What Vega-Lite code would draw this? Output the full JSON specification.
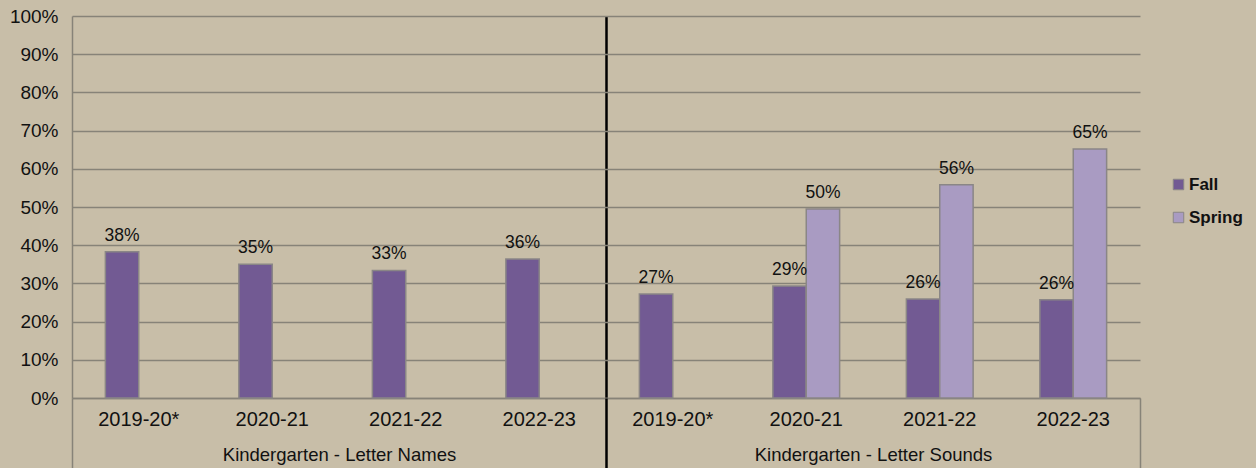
{
  "$schema": "https://vega.github.io/schema/vega-lite/v6.json",
  "width": 1068,
  "height": 382,
  "autosize": {"type": "none"},
  "padding": {"left": 72, "top": 16, "right": 116, "bottom": 70},
  "background": "#c8bea8",
  "config": {"view": {"stroke": null}, "font": "Liberation Sans"},
  "data": {
    "values": [
      {"group": "Kindergarten - Letter Names", "slot": "Names|2019-20*", "series": "Fall", "value": 0.383},
      {"group": "Kindergarten - Letter Names", "slot": "Names|2020-21", "series": "Fall", "value": 0.350},
      {"group": "Kindergarten - Letter Names", "slot": "Names|2021-22", "series": "Fall", "value": 0.334},
      {"group": "Kindergarten - Letter Names", "slot": "Names|2022-23", "series": "Fall", "value": 0.364},
      {"group": "Kindergarten - Letter Sounds", "slot": "Sounds|2019-20*", "series": "Fall", "value": 0.272},
      {"group": "Kindergarten - Letter Sounds", "slot": "Sounds|2020-21", "series": "Fall", "value": 0.293},
      {"group": "Kindergarten - Letter Sounds", "slot": "Sounds|2020-21", "series": "Spring", "value": 0.495},
      {"group": "Kindergarten - Letter Sounds", "slot": "Sounds|2021-22", "series": "Fall", "value": 0.259},
      {"group": "Kindergarten - Letter Sounds", "slot": "Sounds|2021-22", "series": "Spring", "value": 0.558},
      {"group": "Kindergarten - Letter Sounds", "slot": "Sounds|2022-23", "series": "Fall", "value": 0.257},
      {"group": "Kindergarten - Letter Sounds", "slot": "Sounds|2022-23", "series": "Spring", "value": 0.652}
    ]
  },
  "layer": [
    {
      "encoding": {
        "x": {
          "field": "slot", "type": "nominal", "sort": null,
          "scale": {"paddingInner": 0, "paddingOuter": 0},
          "axis": {
            "title": null, "orient": "bottom", "ticks": false, "grid": false,
            "labelExpr": "split(datum.label,'|')[1]",
            "labelAngle": 0, "labelFontSize": 20, "labelPadding": 11,
            "labelColor": "#111", "domainColor": "#878378", "domainWidth": 1.5
          }
        },
        "xOffset": {
          "field": "series", "type": "nominal",
          "scale": {"domain": ["Fall", "Spring"], "paddingInner": 0, "paddingOuter": 1.086}
        },
        "y": {
          "field": "value", "type": "quantitative",
          "scale": {"domain": [0, 1]},
          "axis": {
            "title": null, "values": [0, 0.1, 0.2, 0.3, 0.4, 0.5, 0.6, 0.7, 0.8, 0.9, 1],
            "format": ".0%", "ticks": false, "labelOverlap": false,
            "domainColor": "#878378", "domainWidth": 1.5,
            "gridColor": "#878378", "gridWidth": 1.5,
            "labelFontSize": 19, "labelColor": "#111", "labelPadding": 14
          }
        }
      },
      "layer": [
        {
          "mark": {"type": "bar", "stroke": "#8a8686", "strokeWidth": 1.5},
          "encoding": {
            "color": {
              "field": "series", "type": "nominal",
              "scale": {"domain": ["Fall", "Spring"], "range": ["#725a93", "#a99bc2"]},
              "legend": {
                "title": null, "orient": "none", "legendX": 1098, "legendY": 160,
                "symbolType": "square", "symbolSize": 110,
                "symbolStrokeColor": "#8a8686", "symbolStrokeWidth": 1,
                "labelFontSize": 17, "labelFontWeight": "bold", "labelColor": "#111",
                "rowPadding": 15, "labelOffset": 2, "padding": 0
              }
            }
          }
        },
        {
          "mark": {"type": "text", "baseline": "alphabetic", "dy": -11, "fontSize": 17.5, "color": "#111"},
          "encoding": {
            "text": {"field": "value", "type": "quantitative", "format": ".0%"}
          }
        }
      ]
    },
    {
      "mark": {"type": "point", "opacity": 0},
      "encoding": {
        "x": {
          "field": "group", "type": "nominal", "sort": null,
          "scale": {"paddingInner": 0, "paddingOuter": 0},
          "axis": {
            "title": null, "orient": "bottom", "tickBand": "extent", "tickSize": 70,
            "tickColor": {"condition": {"test": "datum.value === 'Kindergarten - Letter Names'", "value": "#000000"}, "value": "#878378"},
            "tickWidth": {"condition": {"test": "datum.value === 'Kindergarten - Letter Names'", "value": 2.5}, "value": 1.5},
            "grid": true, "gridColor": "#000000", "gridWidth": 2.5,
            "gridOpacity": {"condition": {"test": "datum.value === 'Kindergarten - Letter Names'", "value": 1}, "value": 0},
            "domain": false, "labelPadding": -23, "labelFontSize": 18.5, "labelLimit": 0,
            "labelAngle": 0, "labelColor": "#111"
          }
        }
      }
    }
  ],
  "resolve": {"scale": {"x": "independent"}, "axis": {"x": "independent"}}
}
